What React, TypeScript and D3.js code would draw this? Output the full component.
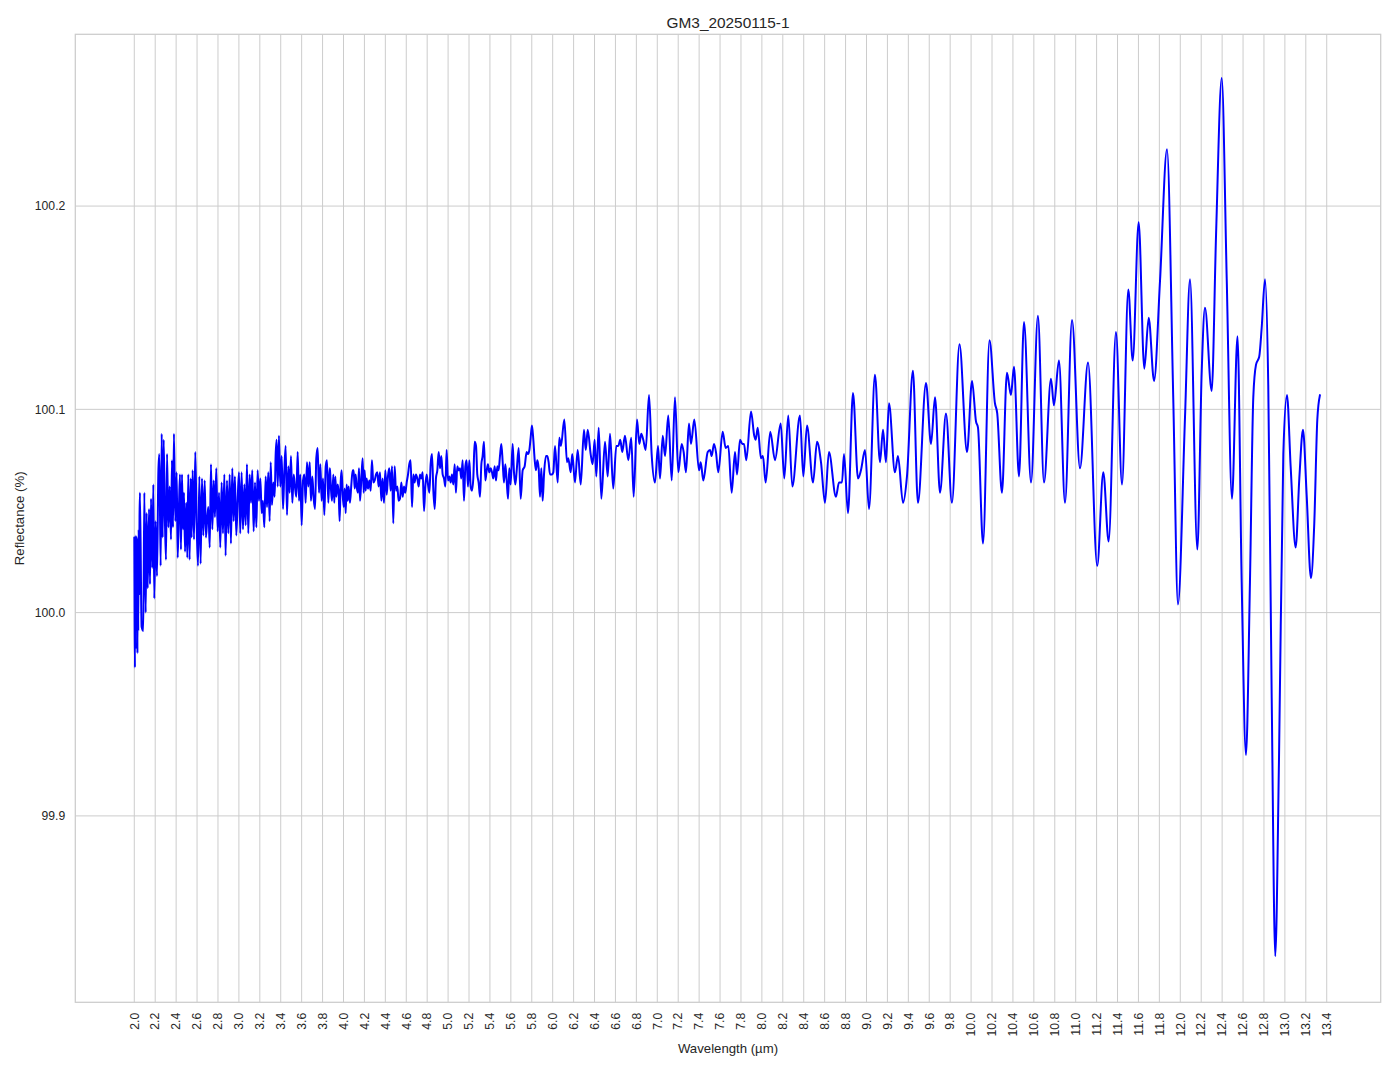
import React from "react";
import * as d3 from "d3";

const chartTitle = "GM3_20250115-1";
const xLabel = "Wavelength (µm)";
const yLabel = "Reflectance (%)";

const xTickValues = [
  2.0, 2.2, 2.4, 2.6, 2.8, 3.0, 3.2, 3.4, 3.6, 3.8, 4.0, 4.2, 4.4, 4.6, 4.8, 5.0,
  5.2, 5.4, 5.6, 5.8, 6.0, 6.2, 6.4, 6.6, 6.8, 7.0, 7.2, 7.4, 7.6, 7.8, 8.0, 8.2,
  8.4, 8.6, 8.8, 9.0, 9.2, 9.4, 9.6, 9.8, 10.0, 10.2, 10.4, 10.6, 10.8, 11.0,
  11.2, 11.4, 11.6, 11.8, 12.0, 12.2, 12.4, 12.6, 12.8, 13.0, 13.2, 13.4,
];
const yTickValues = [99.9, 100.0, 100.1, 100.2];

// 2.0 – 3.87 µm (noisy start)
const segmentShortWave: [number, number][] = [
  [2.0, 100.037], [2.003, 99.995], [2.006, 99.973], [2.009, 100.029], [2.012, 99.982],
  [2.015, 100.038], [2.018, 100.003], [2.021, 100.032], [2.024, 99.993], [2.027, 100.037],
  [2.03, 99.98], [2.034, 100.026], [2.038, 99.991], [2.042, 100.041], [2.046, 100.009],
  [2.05, 100.047], [2.054, 100.059], [2.07, 99.993], [2.086, 99.991], [2.096, 100.059],
  [2.109, 100.0], [2.118, 100.049], [2.128, 100.012], [2.141, 100.051], [2.15, 100.014],
  [2.16, 100.056], [2.172, 100.022], [2.182, 100.063], [2.191, 100.007], [2.204, 100.045],
  [2.217, 100.018], [2.23, 100.069], [2.239, 100.078], [2.252, 100.023], [2.262, 100.088],
  [2.271, 100.037], [2.281, 100.085], [2.293, 100.045], [2.303, 100.026], [2.313, 100.078],
  [2.326, 100.042], [2.338, 100.062], [2.351, 100.036], [2.36, 100.075], [2.37, 100.042],
  [2.379, 100.088], [2.392, 100.045], [2.405, 100.069], [2.415, 100.027], [2.427, 100.052],
  [2.437, 100.068], [2.446, 100.031], [2.456, 100.068], [2.466, 100.041], [2.475, 100.059],
  [2.485, 100.03], [2.497, 100.054], [2.507, 100.027], [2.516, 100.068], [2.529, 100.026],
  [2.539, 100.066], [2.548, 100.037], [2.558, 100.07], [2.571, 100.036], [2.583, 100.079],
  [2.596, 100.044], [2.609, 100.023], [2.622, 100.067], [2.634, 100.024], [2.647, 100.066],
  [2.66, 100.038], [2.673, 100.065], [2.685, 100.037], [2.698, 100.047], [2.708, 100.052],
  [2.721, 100.032], [2.733, 100.073], [2.746, 100.041], [2.759, 100.065], [2.771, 100.047],
  [2.784, 100.071], [2.797, 100.04], [2.81, 100.059], [2.822, 100.032], [2.835, 100.064],
  [2.848, 100.039], [2.861, 100.068], [2.873, 100.028], [2.886, 100.065], [2.899, 100.039],
  [2.912, 100.068], [2.924, 100.034], [2.937, 100.071], [2.95, 100.045], [2.962, 100.067],
  [2.975, 100.038], [2.988, 100.055], [3.001, 100.069], [3.013, 100.039], [3.026, 100.069],
  [3.039, 100.041], [3.052, 100.063], [3.065, 100.043], [3.077, 100.073], [3.09, 100.039],
  [3.103, 100.068], [3.116, 100.054], [3.128, 100.07], [3.141, 100.04], [3.154, 100.064],
  [3.167, 100.042], [3.179, 100.07], [3.192, 100.055], [3.205, 100.066], [3.218, 100.049],
  [3.23, 100.055], [3.243, 100.042], [3.256, 100.067], [3.269, 100.052], [3.281, 100.069],
  [3.294, 100.045], [3.304, 100.074], [3.316, 100.053], [3.329, 100.064], [3.342, 100.057],
  [3.351, 100.077], [3.361, 100.085], [3.371, 100.062], [3.383, 100.087], [3.396, 100.062],
  [3.409, 100.077], [3.422, 100.051], [3.434, 100.069], [3.447, 100.082], [3.46, 100.048],
  [3.473, 100.072], [3.485, 100.059], [3.498, 100.077], [3.511, 100.054], [3.524, 100.068],
  [3.536, 100.062], [3.549, 100.057], [3.562, 100.079], [3.575, 100.055], [3.587, 100.068],
  [3.6, 100.043], [3.613, 100.065], [3.626, 100.068], [3.638, 100.054], [3.651, 100.074],
  [3.664, 100.062], [3.677, 100.074], [3.689, 100.055], [3.702, 100.067], [3.715, 100.056],
  [3.728, 100.051], [3.74, 100.076], [3.753, 100.081], [3.766, 100.059], [3.779, 100.073],
  [3.791, 100.055], [3.804, 100.066], [3.817, 100.048], [3.83, 100.072], [3.842, 100.075],
  [3.855, 100.054], [3.868, 100.071],
];

// 3.87 – 6.01 µm
const segmentMidShort: [number, number][] = [
  [3.871, 100.07], [3.88, 100.061], [3.89, 100.055], [3.903, 100.068], [3.912, 100.054],
  [3.922, 100.067], [3.931, 100.057], [3.944, 100.063], [3.954, 100.059], [3.963, 100.045],
  [3.973, 100.064], [3.982, 100.07], [3.992, 100.058], [4.002, 100.052], [4.011, 100.061],
  [4.021, 100.049], [4.03, 100.063], [4.04, 100.055], [4.049, 100.062], [4.062, 100.054],
  [4.075, 100.063], [4.088, 100.07], [4.097, 100.07], [4.107, 100.061], [4.116, 100.068],
  [4.126, 100.062], [4.139, 100.059], [4.148, 100.071], [4.158, 100.055], [4.17, 100.065],
  [4.183, 100.076], [4.193, 100.059], [4.202, 100.07], [4.212, 100.06], [4.221, 100.066],
  [4.234, 100.061], [4.247, 100.065], [4.26, 100.06], [4.272, 100.075], [4.285, 100.064],
  [4.298, 100.065], [4.311, 100.068], [4.323, 100.069], [4.336, 100.062], [4.349, 100.069],
  [4.362, 100.055], [4.374, 100.066], [4.387, 100.054], [4.4, 100.07], [4.413, 100.058],
  [4.425, 100.067], [4.438, 100.071], [4.451, 100.06], [4.464, 100.072], [4.476, 100.044],
  [4.489, 100.072], [4.502, 100.06], [4.515, 100.062], [4.527, 100.055], [4.54, 100.056],
  [4.553, 100.064], [4.566, 100.057], [4.578, 100.062], [4.591, 100.059], [4.604, 100.064],
  [4.617, 100.068], [4.629, 100.073], [4.642, 100.075], [4.655, 100.052], [4.668, 100.068],
  [4.68, 100.064], [4.693, 100.068], [4.706, 100.066], [4.719, 100.062], [4.731, 100.068],
  [4.744, 100.066], [4.757, 100.069], [4.77, 100.05], [4.782, 100.062], [4.795, 100.068],
  [4.808, 100.063], [4.821, 100.059], [4.833, 100.073], [4.846, 100.078], [4.859, 100.06],
  [4.872, 100.051], [4.884, 100.066], [4.897, 100.07], [4.91, 100.079], [4.923, 100.071],
  [4.935, 100.077], [4.948, 100.068], [4.961, 100.066], [4.974, 100.062], [4.986, 100.08],
  [4.999, 100.065], [5.012, 100.067], [5.025, 100.064], [5.037, 100.068], [5.05, 100.063],
  [5.063, 100.073], [5.075, 100.059], [5.088, 100.072], [5.101, 100.07], [5.114, 100.071],
  [5.126, 100.066], [5.139, 100.075], [5.152, 100.055], [5.165, 100.072], [5.177, 100.075],
  [5.19, 100.062], [5.203, 100.075], [5.216, 100.062], [5.228, 100.06], [5.241, 100.066],
  [5.254, 100.084], [5.267, 100.082], [5.279, 100.068], [5.292, 100.064], [5.305, 100.057],
  [5.318, 100.073], [5.33, 100.077], [5.343, 100.084], [5.356, 100.065], [5.369, 100.07],
  [5.381, 100.073], [5.394, 100.069], [5.407, 100.071], [5.42, 100.069], [5.432, 100.066],
  [5.445, 100.072], [5.458, 100.065], [5.471, 100.072], [5.483, 100.07], [5.496, 100.077],
  [5.509, 100.083], [5.522, 100.074], [5.534, 100.064], [5.547, 100.073], [5.56, 100.065],
  [5.573, 100.056], [5.585, 100.071], [5.598, 100.063], [5.617, 100.083], [5.63, 100.069],
  [5.643, 100.063], [5.656, 100.07], [5.675, 100.081], [5.694, 100.056], [5.713, 100.07],
  [5.732, 100.072], [5.751, 100.079], [5.764, 100.078], [5.777, 100.08], [5.789, 100.086],
  [5.802, 100.092], [5.815, 100.085], [5.828, 100.075], [5.84, 100.07], [5.853, 100.075],
  [5.866, 100.071], [5.879, 100.057], [5.891, 100.071], [5.904, 100.055], [5.917, 100.068],
  [5.936, 100.077], [5.949, 100.077], [5.961, 100.074], [5.974, 100.068], [5.993, 100.068],
  [6.006, 100.069],
];

// 6.02 – 8.40 µm
const segmentMidLong: [number, number][] = [
  [6.022, 100.082], [6.048, 100.064], [6.063, 100.086], [6.079, 100.082], [6.111, 100.095],
  [6.137, 100.074], [6.149, 100.076], [6.172, 100.069], [6.187, 100.078], [6.213, 100.064],
  [6.239, 100.08], [6.268, 100.063], [6.299, 100.09], [6.316, 100.08], [6.335, 100.09],
  [6.363, 100.078], [6.382, 100.073], [6.401, 100.085], [6.417, 100.067], [6.44, 100.091],
  [6.465, 100.056], [6.5, 100.084], [6.526, 100.067], [6.548, 100.088], [6.579, 100.061],
  [6.608, 100.082], [6.627, 100.082], [6.646, 100.085], [6.665, 100.079], [6.691, 100.087],
  [6.723, 100.075], [6.751, 100.086], [6.774, 100.057], [6.806, 100.095], [6.828, 100.083],
  [6.847, 100.088], [6.866, 100.085], [6.889, 100.08], [6.921, 100.107], [6.946, 100.078],
  [6.978, 100.064], [7.007, 100.082], [7.026, 100.066], [7.052, 100.087], [7.074, 100.077],
  [7.105, 100.097], [7.138, 100.065], [7.169, 100.106], [7.201, 100.069], [7.233, 100.083],
  [7.252, 100.079], [7.274, 100.069], [7.303, 100.093], [7.322, 100.083], [7.354, 100.095],
  [7.399, 100.07], [7.415, 100.074], [7.44, 100.065], [7.482, 100.079], [7.504, 100.08],
  [7.52, 100.077], [7.542, 100.083], [7.561, 100.079], [7.583, 100.069], [7.625, 100.089],
  [7.654, 100.081], [7.679, 100.082], [7.711, 100.059], [7.743, 100.079], [7.762, 100.068],
  [7.791, 100.085], [7.813, 100.083], [7.829, 100.083], [7.851, 100.075], [7.896, 100.099],
  [7.927, 100.087], [7.941, 100.085], [7.96, 100.091], [7.991, 100.076], [8.01, 100.077],
  [8.036, 100.064], [8.08, 100.089], [8.125, 100.075], [8.18, 100.093], [8.214, 100.066],
  [8.252, 100.097], [8.291, 100.062], [8.364, 100.097], [8.396, 100.067],
];

// 8.43 – 13.34 µm (smooth fringes)
const segmentLongWave: [number, number][] = [
  [8.431, 100.092], [8.489, 100.064], [8.527, 100.084], [8.565, 100.074], [8.603, 100.054],
  [8.641, 100.079], [8.708, 100.057], [8.737, 100.064], [8.766, 100.064], [8.785, 100.078],
  [8.823, 100.049], [8.871, 100.108], [8.919, 100.066], [8.947, 100.07], [8.986, 100.08],
  [9.024, 100.051], [9.081, 100.117], [9.129, 100.074], [9.158, 100.09], [9.186, 100.074],
  [9.215, 100.103], [9.272, 100.069], [9.301, 100.077], [9.349, 100.054], [9.387, 100.067],
  [9.444, 100.119], [9.492, 100.054], [9.569, 100.113], [9.617, 100.083], [9.655, 100.106],
  [9.703, 100.059], [9.76, 100.098], [9.817, 100.054], [9.889, 100.132], [9.961, 100.079],
  [10.009, 100.114], [10.047, 100.094], [10.066, 100.091], [10.114, 100.034], [10.176, 100.134],
  [10.228, 100.103], [10.25, 100.098], [10.295, 100.059], [10.343, 100.118], [10.381, 100.107],
  [10.41, 100.121], [10.458, 100.067], [10.506, 100.143], [10.573, 100.064], [10.639, 100.146],
  [10.697, 100.064], [10.764, 100.115], [10.792, 100.102], [10.84, 100.124], [10.898, 100.054],
  [10.965, 100.144], [11.041, 100.071], [11.118, 100.123], [11.206, 100.023], [11.264, 100.069],
  [11.315, 100.035], [11.385, 100.138], [11.443, 100.063], [11.503, 100.159], [11.545, 100.124],
  [11.602, 100.192], [11.656, 100.12], [11.698, 100.145], [11.749, 100.114], [11.806, 100.163],
  [11.873, 100.228], [11.933, 100.105], [11.978, 100.004], [12.045, 100.096], [12.093, 100.164],
  [12.163, 100.031], [12.205, 100.119], [12.236, 100.15], [12.3, 100.109], [12.342, 100.186],
  [12.396, 100.263], [12.444, 100.164], [12.494, 100.056], [12.547, 100.136], [12.587, 100.015],
  [12.628, 99.93], [12.666, 100.015], [12.698, 100.106], [12.724, 100.122], [12.755, 100.126],
  [12.778, 100.14], [12.81, 100.164], [12.841, 100.112], [12.874, 99.958], [12.908, 99.831],
  [12.944, 99.929], [12.985, 100.078], [13.02, 100.107], [13.055, 100.072], [13.103, 100.032],
  [13.138, 100.066], [13.173, 100.09], [13.208, 100.058], [13.249, 100.017], [13.281, 100.044],
  [13.31, 100.095], [13.335, 100.107],
];

const spectrum = [
  ...segmentShortWave,
  ...segmentMidShort,
  ...segmentMidLong,
  ...segmentLongWave,
];

const W = 1394;
const H = 1069;
const plot = { left: 75.3, right: 1380.7, top: 34.3, bottom: 1002.3 };
const textColor = "#262626";
const gridColor = "#cccccc";
const font = "'Liberation Sans', Arial, sans-serif";

export default function App() {
  const x = d3.scaleLinear().domain([1.436, 13.916]).range([plot.left, plot.right]);
  const y = d3.scaleLinear().domain([99.8083, 100.2845]).range([plot.bottom, plot.top]);

  const line = d3
    .line<[number, number]>()
    .x((d) => x(d[0]))
    .y((d) => y(d[1]))
    .curve(d3.curveMonotoneX);

  return (
    <div style={{ position: "absolute", left: 0, top: 0 }}>
      <svg width={W} height={H} style={{ display: "block", background: "#ffffff" }} fontFamily={font}>
        <rect x={0} y={0} width={W} height={H} fill="#ffffff" />
        <g>
          {xTickValues.map((t) => (
            <line
              key={"gx" + t}
              x1={x(t)}
              x2={x(t)}
              y1={plot.top}
              y2={plot.bottom}
              stroke={gridColor}
              strokeWidth={1}
            />
          ))}
          {yTickValues.map((t) => (
            <line
              key={"gy" + t}
              x1={plot.left}
              x2={plot.right}
              y1={y(t)}
              y2={y(t)}
              stroke={gridColor}
              strokeWidth={1}
            />
          ))}
        </g>
        <rect
          x={plot.left}
          y={plot.top}
          width={plot.right - plot.left}
          height={plot.bottom - plot.top}
          fill="none"
          stroke={gridColor}
          strokeWidth={1.25}
        />
        <path
          d={line(spectrum) || ""}
          fill="none"
          stroke="#0000ff"
          strokeWidth={2}
          strokeLinejoin="round"
          strokeLinecap="round"
        />
        <g fill={textColor} fontSize={12.2}>
          {xTickValues.map((t) => (
            <text
              key={"tx" + t}
              transform={`translate(${x(t)},${plot.bottom + 10.5}) rotate(-90)`}
              textAnchor="end"
              dy="0.35em"
            >
              {t.toFixed(1)}
            </text>
          ))}
          {yTickValues.map((t) => (
            <text key={"ty" + t} x={plot.left - 10} y={y(t)} textAnchor="end" dy="0.35em">
              {t.toFixed(1)}
            </text>
          ))}
        </g>
        <text
          x={(plot.left + plot.right) / 2}
          y={1053}
          textAnchor="middle"
          fontSize={13.2}
          fill={textColor}
        >
          {xLabel}
        </text>
        <text
          transform={`translate(24,${(plot.top + plot.bottom) / 2}) rotate(-90)`}
          textAnchor="middle"
          fontSize={13.2}
          fill={textColor}
        >
          {yLabel}
        </text>
        <text
          x={(plot.left + plot.right) / 2}
          y={27.7}
          textAnchor="middle"
          fontSize={15.4}
          fill={textColor}
        >
          {chartTitle}
        </text>
      </svg>
    </div>
  );
}
